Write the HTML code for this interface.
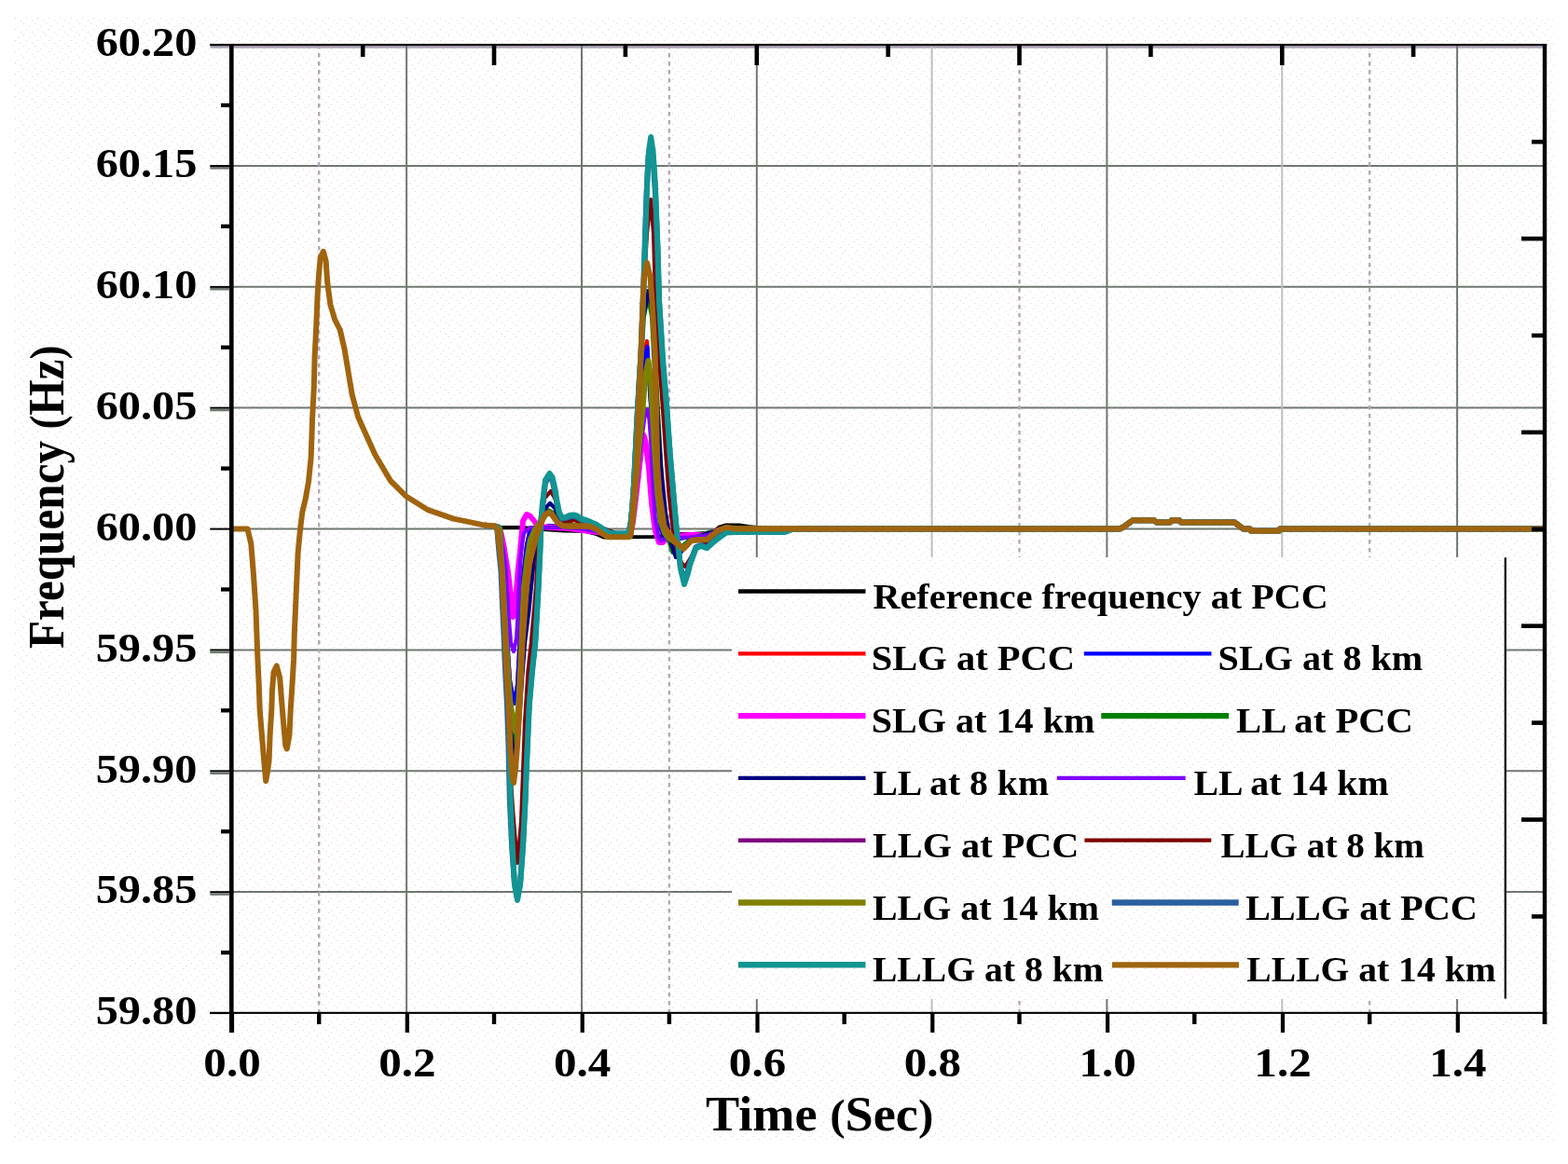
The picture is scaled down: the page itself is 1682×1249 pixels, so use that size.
<!DOCTYPE html><html><head><meta charset="utf-8"><title>Frequency vs Time</title>
<style>html,body{margin:0;padding:0;background:#fff;}svg{display:block;}</style></head><body>
<svg width="1682" height="1249" viewBox="0 0 1682 1249">
<rect x="0" y="0" width="1682" height="1249" fill="#ffffff"/>
<defs><pattern id="dots" x="0" y="0" width="12" height="12" patternUnits="userSpaceOnUse"><rect x="1" y="1" width="1" height="1" fill="#f3c6d3"/><rect x="7" y="4" width="1" height="1" fill="#d6dede"/><rect x="4" y="7" width="1" height="1" fill="#f3c6d3"/><rect x="10" y="10" width="1" height="1" fill="#d6dede"/></pattern></defs>
<rect x="16" y="19" width="1653" height="1206" fill="url(#dots)"/>
<line x1="248.3" y1="177.9" x2="1657.0" y2="177.9" stroke="#6f786f" stroke-width="2"/>
<line x1="248.3" y1="307.8" x2="1657.0" y2="307.8" stroke="#6f786f" stroke-width="2"/>
<line x1="248.3" y1="437.6" x2="1657.0" y2="437.6" stroke="#6f786f" stroke-width="2"/>
<line x1="248.3" y1="567.5" x2="1657.0" y2="567.5" stroke="#6f786f" stroke-width="2"/>
<line x1="248.3" y1="697.4" x2="1657.0" y2="697.4" stroke="#6f786f" stroke-width="2"/>
<line x1="248.3" y1="827.2" x2="1657.0" y2="827.2" stroke="#6f786f" stroke-width="2"/>
<line x1="248.3" y1="957.1" x2="1657.0" y2="957.1" stroke="#6f786f" stroke-width="2"/>
<rect x="225.6" y="49.2" width="1431.4" height="2.6" fill="#b0a6b8"/>
<line x1="436.1" y1="48.0" x2="436.1" y2="1087.0" stroke="#6f786f" stroke-width="2"/>
<line x1="624.0" y1="48.0" x2="624.0" y2="1087.0" stroke="#6f786f" stroke-width="2"/>
<line x1="811.8" y1="48.0" x2="811.8" y2="1087.0" stroke="#6f786f" stroke-width="2"/>
<line x1="999.6" y1="48.0" x2="999.6" y2="1087.0" stroke="#bebebe" stroke-width="2"/>
<line x1="1187.4" y1="48.0" x2="1187.4" y2="1087.0" stroke="#6f786f" stroke-width="2"/>
<line x1="1375.3" y1="48.0" x2="1375.3" y2="1087.0" stroke="#bebebe" stroke-width="2"/>
<line x1="1563.1" y1="48.0" x2="1563.1" y2="1087.0" stroke="#6f786f" stroke-width="2"/>
<line x1="342.2" y1="48.0" x2="342.2" y2="1087.0" stroke="#b4a7ba" stroke-width="2.4" stroke-dasharray="4.5 4.5"/>
<line x1="717.9" y1="48.0" x2="717.9" y2="1087.0" stroke="#b4a7ba" stroke-width="2.4" stroke-dasharray="4.5 4.5"/>
<line x1="1093.5" y1="48.0" x2="1093.5" y2="1087.0" stroke="#b4a7ba" stroke-width="2.4" stroke-dasharray="4.5 4.5"/>
<line x1="1469.2" y1="48.0" x2="1469.2" y2="1087.0" stroke="#b4a7ba" stroke-width="2.4" stroke-dasharray="4.5 4.5"/>
<polyline points="520.0,563.6 534.0,565.5 536.0,566.0 560.0,566.0 575.0,567.5 590.0,568.5 605.0,569.5 628.0,570.0 640.0,573.0 648.0,576.5 700.0,576.0 712.0,575.0 729.0,573.0 742.0,573.0 758.0,572.0 764.0,572.0 772.0,565.5 779.0,563.5 793.0,563.5 802.0,565.0 812.0,566.0 830.0,567.5 1201.0,567.5 1205.0,565.5 1210.0,562.0 1215.0,558.3 1238.0,558.3 1241.0,560.5 1255.0,560.5 1257.0,558.3 1265.0,558.3 1267.0,560.5 1324.5,560.6 1329.0,564.0 1333.5,567.5 1341.0,567.5 1342.0,569.7 1372.0,569.7 1373.0,567.5 1657.0,567.5" fill="none" stroke="#000000" stroke-width="4.2" stroke-linejoin="round" stroke-linecap="butt"/>
<polyline points="520.0,563.6 534.0,565.5 536.0,567.0 539.0,605.0 543.0,670.0 547.0,730.0 551.5,755.0 555.0,735.0 558.0,680.0 561.0,620.0 565.0,585.0 569.0,567.0 573.0,566.0 580.0,566.0 590.0,564.0 600.0,565.0 620.0,566.0 645.0,570.0 660.0,573.0 675.0,573.0 679.0,550.0 682.0,505.0 685.0,440.0 689.0,390.0 694.0,366.0 697.3,420.0 700.0,460.0 701.7,483.0 703.5,515.0 706.0,545.0 709.0,568.0 713.0,578.0 718.0,580.0 722.0,579.0 735.0,577.0 755.0,575.0 772.0,569.0 785.0,567.5 1201.0,567.5 1205.0,565.5 1210.0,562.0 1215.0,558.3 1238.0,558.3 1241.0,560.5 1255.0,560.5 1257.0,558.3 1265.0,558.3 1267.0,560.5 1324.5,560.6 1329.0,564.0 1333.5,567.5 1341.0,567.5 1342.0,569.7 1372.0,569.7 1373.0,567.5 1657.0,567.5" fill="none" stroke="#ff0000" stroke-width="4.2" stroke-linejoin="round" stroke-linecap="butt"/>
<polyline points="520.0,563.6 534.0,565.5 536.0,567.0 539.0,605.0 543.0,670.0 547.0,730.0 551.5,755.0 555.0,735.0 558.0,680.0 561.0,620.0 565.0,585.0 569.0,567.0 573.0,566.0 580.0,566.0 590.0,564.0 600.0,565.0 620.0,566.0 645.0,570.0 660.0,573.0 675.0,573.0 679.0,550.0 682.0,505.0 685.0,440.0 689.0,395.0 694.5,372.0 697.3,426.0 700.0,460.0 701.7,483.0 703.5,515.0 706.0,545.0 709.0,568.0 713.0,578.0 718.0,580.0 722.0,579.0 735.0,577.0 755.0,575.0 772.0,569.0 785.0,567.5 1201.0,567.5 1205.0,565.5 1210.0,562.0 1215.0,558.3 1238.0,558.3 1241.0,560.5 1255.0,560.5 1257.0,558.3 1265.0,558.3 1267.0,560.5 1324.5,560.6 1329.0,564.0 1333.5,567.5 1341.0,567.5 1342.0,569.7 1372.0,569.7 1373.0,567.5 1657.0,567.5" fill="none" stroke="#0000ff" stroke-width="4.2" stroke-linejoin="round" stroke-linecap="butt"/>
<polyline points="520.0,563.6 534.0,565.5 535.0,565.5 537.5,572.0 540.4,586.0 544.9,613.6 547.7,636.0 549.3,655.0 550.3,662.0 551.6,655.0 553.3,643.0 555.5,613.6 558.0,591.0 561.0,559.0 565.0,552.0 569.0,554.0 573.8,560.0 577.0,565.0 590.0,566.0 610.0,567.0 640.0,571.0 660.0,574.0 676.0,574.0 679.0,560.0 682.0,535.0 686.0,500.0 688.5,478.0 690.5,467.0 692.5,474.0 696.0,502.0 699.0,540.0 703.0,570.0 707.0,582.0 711.0,582.0 716.0,577.0 725.0,575.0 740.0,574.0 755.0,574.0 770.0,569.0 785.0,567.5 1201.0,567.5 1205.0,565.5 1210.0,562.0 1215.0,558.3 1238.0,558.3 1241.0,560.5 1255.0,560.5 1257.0,558.3 1265.0,558.3 1267.0,560.5 1324.5,560.6 1329.0,564.0 1333.5,567.5 1341.0,567.5 1342.0,569.7 1372.0,569.7 1373.0,567.5 1657.0,567.5" fill="none" stroke="#ff00ff" stroke-width="6.0" stroke-linejoin="round" stroke-linecap="butt"/>
<polyline points="520.0,563.6 534.0,565.5 536.0,567.0 539.0,620.0 543.0,700.0 547.0,770.0 552.0,800.0 556.0,770.0 560.0,700.0 564.0,640.0 568.0,600.0 573.0,580.0 580.0,560.0 588.0,548.0 595.0,552.0 602.0,561.0 615.0,564.0 640.0,569.0 660.0,573.0 675.0,573.0 679.0,540.0 684.0,440.0 690.0,340.0 695.0,313.0 700.0,340.0 705.0,440.0 710.0,530.0 715.0,570.0 722.0,592.0 728.0,590.0 740.0,580.0 760.0,572.0 785.0,567.5 1201.0,567.5 1205.0,565.5 1210.0,562.0 1215.0,558.3 1238.0,558.3 1241.0,560.5 1255.0,560.5 1257.0,558.3 1265.0,558.3 1267.0,560.5 1324.5,560.6 1329.0,564.0 1333.5,567.5 1341.0,567.5 1342.0,569.7 1372.0,569.7 1373.0,567.5 1657.0,567.5" fill="none" stroke="#008000" stroke-width="6.0" stroke-linejoin="round" stroke-linecap="butt"/>
<polyline points="520.0,563.6 534.0,565.5 536.0,567.0 539.0,620.0 543.0,700.0 547.0,775.0 552.0,818.0 556.0,790.0 560.0,730.0 563.0,690.0 567.4,655.0 573.8,591.0 580.0,560.0 586.0,544.0 590.0,540.0 595.0,545.0 600.0,556.0 610.0,563.0 640.0,569.0 660.0,573.0 675.0,573.0 679.0,540.0 684.0,440.0 690.0,340.0 696.0,312.0 700.0,335.0 704.0,420.0 709.0,500.0 714.0,550.0 719.0,580.0 725.0,598.0 731.0,592.0 740.0,580.0 760.0,572.0 785.0,567.5 1201.0,567.5 1205.0,565.5 1210.0,562.0 1215.0,558.3 1238.0,558.3 1241.0,560.5 1255.0,560.5 1257.0,558.3 1265.0,558.3 1267.0,560.5 1324.5,560.6 1329.0,564.0 1333.5,567.5 1341.0,567.5 1342.0,569.7 1372.0,569.7 1373.0,567.5 1657.0,567.5" fill="none" stroke="#000080" stroke-width="4.2" stroke-linejoin="round" stroke-linecap="butt"/>
<polyline points="520.0,563.6 534.0,565.5 535.0,566.0 538.0,580.0 542.0,605.0 543.5,625.0 545.5,660.0 548.0,690.0 551.0,699.0 554.0,685.0 556.0,650.0 557.0,625.0 558.5,600.0 560.0,585.0 562.0,572.0 568.7,566.0 575.0,567.0 585.0,566.0 600.0,566.0 620.0,567.0 645.0,571.0 660.0,574.0 676.0,574.0 679.0,560.0 682.0,530.0 685.0,500.0 688.5,470.0 691.5,447.0 694.0,439.5 696.5,450.0 698.0,470.0 699.4,501.6 702.8,556.0 706.5,576.5 709.0,580.0 715.0,578.0 730.0,577.0 745.0,576.0 760.0,574.0 772.0,569.0 785.0,567.5 1201.0,567.5 1205.0,565.5 1210.0,562.0 1215.0,558.3 1238.0,558.3 1241.0,560.5 1255.0,560.5 1257.0,558.3 1265.0,558.3 1267.0,560.5 1324.5,560.6 1329.0,564.0 1333.5,567.5 1341.0,567.5 1342.0,569.7 1372.0,569.7 1373.0,567.5 1657.0,567.5" fill="none" stroke="#8000ff" stroke-width="4.2" stroke-linejoin="round" stroke-linecap="butt"/>
<polyline points="520.0,563.6 534.0,565.5 536.0,567.0 539.0,620.0 543.0,690.0 547.0,748.0 551.0,776.0 553.0,780.0 556.0,757.0 559.0,700.0 562.0,630.0 565.5,600.0 568.7,580.0 573.0,570.0 579.0,561.0 584.0,553.0 588.2,550.0 592.0,552.0 597.9,560.4 604.0,564.4 632.0,564.4 639.2,567.5 646.3,572.7 652.4,575.5 676.0,575.5 680.0,552.0 685.0,475.0 690.0,415.0 696.0,390.0 701.0,415.0 705.0,482.0 709.0,540.0 713.0,572.0 717.0,577.0 725.0,582.5 733.3,588.5 741.6,580.0 758.3,579.0 770.8,569.0 779.0,566.0 790.0,567.5 1201.0,567.5 1205.0,565.5 1210.0,562.0 1215.0,558.3 1238.0,558.3 1241.0,560.5 1255.0,560.5 1257.0,558.3 1265.0,558.3 1267.0,560.5 1324.5,560.6 1329.0,564.0 1333.5,567.5 1341.0,567.5 1342.0,569.7 1372.0,569.7 1373.0,567.5 1657.0,567.5" fill="none" stroke="#800080" stroke-width="4.2" stroke-linejoin="round" stroke-linecap="butt"/>
<polyline points="520.0,563.6 534.0,565.5 536.0,567.0 539.0,640.0 543.0,740.0 547.0,820.0 550.0,868.0 553.0,905.0 555.0,926.0 557.0,905.0 559.0,883.0 563.0,775.0 566.5,720.0 569.8,690.0 575.0,630.0 577.7,575.0 580.0,555.0 584.0,535.0 590.8,527.0 596.0,536.0 600.0,552.0 606.0,560.0 612.0,559.0 616.0,558.0 621.0,560.0 632.0,563.0 650.0,568.0 660.0,572.0 675.0,572.0 679.0,530.0 684.0,450.0 689.0,340.0 694.0,250.0 698.0,214.0 701.0,250.0 703.2,324.0 707.2,388.0 710.8,436.0 714.5,490.0 717.5,530.0 721.7,567.0 726.0,590.0 731.0,604.0 735.0,608.0 740.0,600.0 748.0,588.0 758.0,582.0 766.0,578.0 775.0,570.0 790.0,567.5 1201.0,567.5 1205.0,565.5 1210.0,562.0 1215.0,558.3 1238.0,558.3 1241.0,560.5 1255.0,560.5 1257.0,558.3 1265.0,558.3 1267.0,560.5 1324.5,560.6 1329.0,564.0 1333.5,567.5 1341.0,567.5 1342.0,569.7 1372.0,569.7 1373.0,567.5 1657.0,567.5" fill="none" stroke="#800000" stroke-width="4.2" stroke-linejoin="round" stroke-linecap="butt"/>
<polyline points="520.0,563.6 534.0,565.5 536.0,567.0 539.0,620.0 543.0,690.0 547.0,750.0 551.0,780.0 553.0,785.0 556.0,760.0 559.0,700.0 562.0,630.0 565.5,600.0 568.7,580.0 573.0,570.0 579.0,561.0 584.0,553.0 588.2,550.0 592.0,552.0 597.9,560.4 604.0,564.4 632.0,564.4 639.2,567.5 646.3,572.7 652.4,575.5 676.0,575.5 679.0,555.0 682.0,520.0 685.0,485.0 689.6,437.6 692.2,404.0 695.4,387.0 697.8,404.0 699.6,437.6 702.0,480.0 705.5,530.0 709.0,560.0 713.0,572.0 717.0,577.0 725.0,582.5 733.3,588.5 741.6,580.0 758.3,579.0 770.8,569.0 779.0,566.0 790.0,567.5 1201.0,567.5 1205.0,565.5 1210.0,562.0 1215.0,558.3 1238.0,558.3 1241.0,560.5 1255.0,560.5 1257.0,558.3 1265.0,558.3 1267.0,560.5 1324.5,560.6 1329.0,564.0 1333.5,567.5 1341.0,567.5 1342.0,569.7 1372.0,569.7 1373.0,567.5 1657.0,567.5" fill="none" stroke="#808000" stroke-width="6.0" stroke-linejoin="round" stroke-linecap="butt"/>
<polyline points="520.0,563.6 534.0,565.5 531.0,564.5 533.3,568.0 534.3,580.0 535.3,591.0 537.5,613.6 538.9,647.0 540.5,681.0 541.8,714.5 544.0,757.0 545.5,800.0 546.8,858.0 549.2,910.0 552.0,948.0 555.0,963.0 558.0,948.0 561.0,905.0 563.4,858.0 564.6,825.0 567.5,757.0 570.8,720.0 574.0,690.0 577.4,630.0 579.2,590.0 580.3,560.0 582.0,542.0 585.0,518.0 589.5,511.0 592.5,515.0 595.3,528.0 597.5,541.0 599.8,551.5 603.0,556.5 607.0,556.0 611.0,554.5 615.0,554.0 619.0,555.0 623.0,557.5 630.0,559.5 640.0,563.5 651.5,570.5 656.0,572.5 674.0,572.5 677.0,560.0 680.0,520.0 684.0,440.0 687.5,380.0 690.3,306.0 693.5,210.0 695.5,168.0 698.2,152.0 700.5,168.0 702.8,205.0 705.3,265.0 707.0,324.0 711.0,388.0 715.0,436.0 718.5,486.0 723.8,548.0 726.3,575.0 729.8,608.0 734.0,624.0 738.0,612.0 740.0,604.0 746.6,587.0 752.0,585.0 758.3,587.0 764.0,582.0 770.8,576.5 779.0,571.0 790.0,570.5 842.0,570.5 850.0,568.0 870.0,567.5 1201.0,567.5 1205.0,565.5 1210.0,562.0 1215.0,558.3 1238.0,558.3 1241.0,560.5 1255.0,560.5 1257.0,558.3 1265.0,558.3 1267.0,560.5 1324.5,560.6 1329.0,564.0 1333.5,567.5 1341.0,567.5 1342.0,569.7 1372.0,569.7 1373.0,567.5 1657.0,567.5" fill="none" stroke="#2a5fa0" stroke-width="6.0" stroke-linejoin="round" stroke-linecap="butt"/>
<polyline points="520.0,563.6 534.0,565.5 531.0,564.5 533.8,568.0 535.3,580.0 536.6,591.0 539.0,613.6 540.4,647.0 542.1,681.0 543.3,714.5 545.6,757.0 546.8,800.0 547.6,858.0 549.8,910.0 552.0,950.0 555.0,966.0 558.0,950.0 561.0,910.0 563.6,858.0 564.8,825.0 567.8,757.0 571.0,720.0 574.3,690.0 577.7,630.0 579.5,590.0 580.5,560.0 582.0,540.0 585.0,515.0 589.5,508.0 592.5,512.0 595.5,525.0 597.7,539.0 600.0,550.0 603.0,555.5 607.0,555.0 611.0,553.0 615.0,552.5 619.0,553.5 623.0,556.5 630.0,558.5 640.0,563.0 651.5,570.5 656.0,572.5 674.0,572.5 677.0,560.0 680.0,520.0 684.0,440.0 687.5,380.0 690.6,306.0 694.0,200.0 696.0,162.0 698.2,147.0 700.5,162.0 703.0,200.0 705.5,265.0 707.2,324.0 711.2,388.0 715.2,436.0 718.7,486.0 724.0,548.0 726.5,575.0 730.0,610.0 734.0,627.0 738.0,615.0 740.0,606.6 746.6,588.3 752.0,586.0 758.3,588.3 764.0,583.0 770.8,577.5 779.0,571.6 790.0,571.0 842.0,571.0 850.0,568.0 870.0,567.5 1201.0,567.5 1205.0,565.5 1210.0,562.0 1215.0,558.3 1238.0,558.3 1241.0,560.5 1255.0,560.5 1257.0,558.3 1265.0,558.3 1267.0,560.5 1324.5,560.6 1329.0,564.0 1333.5,567.5 1341.0,567.5 1342.0,569.7 1372.0,569.7 1373.0,567.5 1657.0,567.5" fill="none" stroke="#129592" stroke-width="6.0" stroke-linejoin="round" stroke-linecap="butt"/>
<polyline points="248.3,567.5 265.5,567.5 269.3,583.5 272.0,617.0 274.5,655.0 276.4,707.0 277.7,734.0 278.7,761.6 280.9,788.8 283.2,816.0 285.2,838.0 287.0,828.0 288.6,816.0 289.6,788.8 291.3,761.6 292.0,741.0 293.6,721.0 296.8,714.5 300.2,727.6 301.8,748.0 304.0,775.0 306.3,800.0 307.8,803.5 310.4,789.0 311.7,761.6 313.5,734.4 315.1,707.2 315.8,680.0 318.0,629.6 319.6,593.8 322.0,568.2 324.4,549.0 327.6,536.0 331.0,517.0 333.6,491.3 335.2,447.0 336.8,415.0 337.6,383.0 339.2,351.0 340.5,319.0 342.0,295.0 343.7,276.0 346.9,270.0 349.6,280.0 351.2,303.0 354.4,327.0 359.2,343.0 364.8,354.0 369.6,375.0 373.6,399.0 377.6,423.0 384.0,447.0 388.4,457.0 402.4,488.0 419.0,516.0 436.0,532.8 458.4,546.8 486.4,556.6 520.0,563.6 531.0,564.5 533.5,568.0 535.0,580.0 536.3,591.0 538.7,613.6 540.1,647.0 541.8,681.0 543.0,714.5 545.4,757.0 547.5,805.0 549.5,832.0 551.0,840.0 553.0,825.0 555.0,800.0 557.5,757.0 560.5,690.0 564.9,630.0 568.0,605.0 571.3,591.0 575.0,577.0 579.0,565.6 584.0,553.0 588.2,550.0 592.0,552.0 597.9,560.4 604.0,564.4 632.0,564.4 639.2,567.5 646.3,572.7 652.4,576.3 674.4,576.3 677.0,572.0 680.0,535.0 682.7,501.6 685.0,437.6 687.6,380.0 689.6,324.0 691.0,297.0 694.0,282.0 697.5,297.0 699.6,324.0 702.6,380.0 704.0,437.6 705.2,501.6 707.5,530.0 709.7,545.0 712.6,565.0 715.4,569.0 725.0,582.0 733.3,589.0 741.6,580.0 750.0,579.0 758.3,579.0 770.8,569.0 779.0,566.0 790.0,567.5 1201.0,567.5 1205.0,565.5 1210.0,562.0 1215.0,558.3 1238.0,558.3 1241.0,560.5 1255.0,560.5 1257.0,558.3 1265.0,558.3 1267.0,560.5 1324.5,560.6 1329.0,564.0 1333.5,567.5 1341.0,567.5 1342.0,569.7 1372.0,569.7 1373.0,567.5 1657.0,567.5" fill="none" stroke="#a0640f" stroke-width="6.0" stroke-linejoin="round" stroke-linecap="butt"/>
<rect x="785" y="598" width="830" height="474" fill="#ffffff"/>
<rect x="785" y="598" width="830" height="474" fill="url(#dots)"/>
<rect x="1613.7" y="598.3" width="2.2" height="473.3" fill="#000"/>
<rect x="246.0" y="47.0" width="4.6" height="1061" fill="#000"/>
<rect x="1654.8" y="47.0" width="4.4" height="1052" fill="#000"/>
<rect x="225.3" y="47.0" width="1433.9" height="2.2" fill="#000"/>
<rect x="225.3" y="1085.8" width="1433.9" height="2.1" fill="#000"/>
<rect x="225.3" y="47.1" width="22" height="2.0" fill="#000"/>
<rect x="225.3" y="177.0" width="22" height="2.0" fill="#000"/>
<rect x="225.3" y="179.0" width="21" height="2.6" fill="#6f786f"/>
<rect x="225.3" y="306.9" width="22" height="2.0" fill="#000"/>
<rect x="225.3" y="308.9" width="21" height="2.6" fill="#6f786f"/>
<rect x="225.3" y="436.7" width="22" height="2.0" fill="#000"/>
<rect x="225.3" y="438.7" width="21" height="2.6" fill="#6f786f"/>
<rect x="225.3" y="566.6" width="22" height="2.0" fill="#000"/>
<rect x="225.3" y="696.5" width="22" height="2.0" fill="#000"/>
<rect x="225.3" y="698.5" width="21" height="2.6" fill="#6f786f"/>
<rect x="225.3" y="826.4" width="22" height="2.0" fill="#000"/>
<rect x="225.3" y="828.4" width="21" height="2.6" fill="#6f786f"/>
<rect x="225.3" y="956.2" width="22" height="2.0" fill="#000"/>
<rect x="225.3" y="958.2" width="21" height="2.6" fill="#6f786f"/>
<rect x="225.3" y="1086.1" width="22" height="2.0" fill="#000"/>
<rect x="237.0" y="110.8" width="10" height="4.3" fill="#000"/>
<rect x="237.0" y="240.7" width="10" height="4.3" fill="#000"/>
<rect x="237.0" y="370.6" width="10" height="4.3" fill="#000"/>
<rect x="237.0" y="500.5" width="10" height="4.3" fill="#000"/>
<rect x="237.0" y="630.3" width="10" height="4.3" fill="#000"/>
<rect x="237.0" y="760.2" width="10" height="4.3" fill="#000"/>
<rect x="237.0" y="890.1" width="10" height="4.3" fill="#000"/>
<rect x="237.0" y="1020.0" width="10" height="4.3" fill="#000"/>
<rect x="246.9" y="1086" width="4.2" height="22" fill="#000"/>
<rect x="340.0" y="1086" width="4.4" height="13" fill="#000"/>
<rect x="434.7" y="1086" width="4.2" height="22" fill="#000"/>
<rect x="527.8" y="1086" width="4.4" height="13" fill="#000"/>
<rect x="622.6" y="1086" width="4.2" height="22" fill="#000"/>
<rect x="715.7" y="1086" width="4.4" height="13" fill="#000"/>
<rect x="810.4" y="1086" width="4.2" height="22" fill="#000"/>
<rect x="903.5" y="1086" width="4.4" height="13" fill="#000"/>
<rect x="998.2" y="1086" width="4.2" height="22" fill="#000"/>
<rect x="1091.3" y="1086" width="4.4" height="13" fill="#000"/>
<rect x="1186.0" y="1086" width="4.2" height="22" fill="#000"/>
<rect x="1279.1" y="1086" width="4.4" height="13" fill="#000"/>
<rect x="1373.9" y="1086" width="4.2" height="22" fill="#000"/>
<rect x="1467.0" y="1086" width="4.4" height="13" fill="#000"/>
<rect x="1561.7" y="1086" width="4.2" height="22" fill="#000"/>
<rect x="1654.8" y="1086" width="4.4" height="13" fill="#000"/>
<rect x="386.9" y="47" width="4.6" height="14" fill="#000"/>
<rect x="527.7" y="47" width="4.6" height="23" fill="#000"/>
<rect x="668.6" y="47" width="4.6" height="14" fill="#000"/>
<rect x="809.5" y="47" width="4.6" height="23" fill="#000"/>
<rect x="950.4" y="47" width="4.6" height="14" fill="#000"/>
<rect x="1091.2" y="47" width="4.6" height="23" fill="#000"/>
<rect x="1232.1" y="47" width="4.6" height="14" fill="#000"/>
<rect x="1373.0" y="47" width="4.6" height="23" fill="#000"/>
<rect x="1513.8" y="47" width="4.6" height="14" fill="#000"/>
<rect x="1643.0" y="149.9" width="12" height="4.6" fill="#000"/>
<rect x="1632.0" y="253.8" width="23" height="4.6" fill="#000"/>
<rect x="1643.0" y="357.7" width="12" height="4.6" fill="#000"/>
<rect x="1632.0" y="461.6" width="23" height="4.6" fill="#000"/>
<rect x="1643.0" y="565.5" width="12" height="4.6" fill="#000"/>
<rect x="1632.0" y="669.4" width="23" height="4.6" fill="#000"/>
<rect x="1643.0" y="773.3" width="12" height="4.6" fill="#000"/>
<rect x="1632.0" y="877.2" width="23" height="4.6" fill="#000"/>
<rect x="1643.0" y="981.1" width="12" height="4.6" fill="#000"/>
<line x1="792" y1="634.5" x2="928.5" y2="634.5" stroke="#000000" stroke-width="4.5"/>
<text transform="translate(936.40,652.5) scale(1.0838,1)" font-size="37.1" font-family="'Liberation Serif','Times New Roman',serif" font-weight="bold" fill="#000">Reference frequency at PCC</text>
<line x1="792" y1="701.3" x2="928.5" y2="701.3" stroke="#ff0000" stroke-width="4.3"/>
<text transform="translate(934.77,719.3) scale(1.0915,1)" font-size="37.1" font-family="'Liberation Serif','Times New Roman',serif" font-weight="bold" fill="#000">SLG at PCC</text>
<line x1="1162.8" y1="701.3" x2="1299.5" y2="701.3" stroke="#0000ff" stroke-width="4.3"/>
<text transform="translate(1306.59,719.3) scale(1.0822,1)" font-size="37.1" font-family="'Liberation Serif','Times New Roman',serif" font-weight="bold" fill="#000">SLG at 8 km</text>
<line x1="792" y1="768.1" x2="928.5" y2="768.1" stroke="#ff00ff" stroke-width="6.4"/>
<text transform="translate(934.79,786.1) scale(1.0814,1)" font-size="37.1" font-family="'Liberation Serif','Times New Roman',serif" font-weight="bold" fill="#000">SLG at 14 km</text>
<line x1="1181.3" y1="768.1" x2="1318.1" y2="768.1" stroke="#008000" stroke-width="6.4"/>
<text transform="translate(1326.09,786.1) scale(1.0970,1)" font-size="37.1" font-family="'Liberation Serif','Times New Roman',serif" font-weight="bold" fill="#000">LL at PCC</text>
<line x1="792" y1="834.9" x2="928.5" y2="834.9" stroke="#000080" stroke-width="4.3"/>
<text transform="translate(936.40,852.9) scale(1.0702,1)" font-size="37.1" font-family="'Liberation Serif','Times New Roman',serif" font-weight="bold" fill="#000">LL at 8 km</text>
<line x1="1133.8" y1="834.9" x2="1271.7" y2="834.9" stroke="#8000ff" stroke-width="4.3"/>
<text transform="translate(1280.40,852.9) scale(1.0740,1)" font-size="37.1" font-family="'Liberation Serif','Times New Roman',serif" font-weight="bold" fill="#000">LL at 14 km</text>
<line x1="792" y1="901.7" x2="928.5" y2="901.7" stroke="#800080" stroke-width="4.5"/>
<text transform="translate(935.90,919.7) scale(1.0861,1)" font-size="37.1" font-family="'Liberation Serif','Times New Roman',serif" font-weight="bold" fill="#000">LLG at PCC</text>
<line x1="1163.4" y1="901.7" x2="1299.3" y2="901.7" stroke="#800000" stroke-width="4.3"/>
<text transform="translate(1309.41,919.7) scale(1.0549,1)" font-size="37.1" font-family="'Liberation Serif','Times New Roman',serif" font-weight="bold" fill="#000">LLG at 8 km</text>
<line x1="792" y1="968.5" x2="928.5" y2="968.5" stroke="#808000" stroke-width="6.5"/>
<text transform="translate(935.90,986.5) scale(1.0768,1)" font-size="37.1" font-family="'Liberation Serif','Times New Roman',serif" font-weight="bold" fill="#000">LLG at 14 km</text>
<line x1="1192.8" y1="968.5" x2="1328.7" y2="968.5" stroke="#2a5fa0" stroke-width="6.7"/>
<text transform="translate(1335.89,986.5) scale(1.0893,1)" font-size="37.1" font-family="'Liberation Serif','Times New Roman',serif" font-weight="bold" fill="#000">LLLG at PCC</text>
<line x1="792" y1="1035.3" x2="928.5" y2="1035.3" stroke="#129592" stroke-width="6.4"/>
<text transform="translate(935.91,1053.3) scale(1.0691,1)" font-size="37.1" font-family="'Liberation Serif','Times New Roman',serif" font-weight="bold" fill="#000">LLLG at 8 km</text>
<line x1="1193" y1="1035.3" x2="1329" y2="1035.3" stroke="#a0640f" stroke-width="6.2"/>
<text transform="translate(1337.21,1053.3) scale(1.0681,1)" font-size="37.1" font-family="'Liberation Serif','Times New Roman',serif" font-weight="bold" fill="#000">LLLG at 14 km</text>
<text transform="translate(211.5,60.2) scale(1.095,1)" text-anchor="end" font-size="44.2" font-family="'Liberation Serif','Times New Roman',serif" font-weight="bold" fill="#000">60.20</text>
<text transform="translate(211.5,190.1) scale(1.095,1)" text-anchor="end" font-size="44.2" font-family="'Liberation Serif','Times New Roman',serif" font-weight="bold" fill="#000">60.15</text>
<text transform="translate(211.5,319.9) scale(1.095,1)" text-anchor="end" font-size="44.2" font-family="'Liberation Serif','Times New Roman',serif" font-weight="bold" fill="#000">60.10</text>
<text transform="translate(211.5,449.8) scale(1.095,1)" text-anchor="end" font-size="44.2" font-family="'Liberation Serif','Times New Roman',serif" font-weight="bold" fill="#000">60.05</text>
<text transform="translate(211.5,579.7) scale(1.095,1)" text-anchor="end" font-size="44.2" font-family="'Liberation Serif','Times New Roman',serif" font-weight="bold" fill="#000">60.00</text>
<text transform="translate(211.5,709.6) scale(1.095,1)" text-anchor="end" font-size="44.2" font-family="'Liberation Serif','Times New Roman',serif" font-weight="bold" fill="#000">59.95</text>
<text transform="translate(211.5,839.5) scale(1.095,1)" text-anchor="end" font-size="44.2" font-family="'Liberation Serif','Times New Roman',serif" font-weight="bold" fill="#000">59.90</text>
<text transform="translate(211.5,969.3) scale(1.095,1)" text-anchor="end" font-size="44.2" font-family="'Liberation Serif','Times New Roman',serif" font-weight="bold" fill="#000">59.85</text>
<text transform="translate(211.5,1099.2) scale(1.095,1)" text-anchor="end" font-size="44.2" font-family="'Liberation Serif','Times New Roman',serif" font-weight="bold" fill="#000">59.80</text>
<text transform="translate(249.0,1155.2) scale(1.11,1)" text-anchor="middle" font-size="44.2" font-family="'Liberation Serif','Times New Roman',serif" font-weight="bold" fill="#000">0.0</text>
<text transform="translate(436.8,1155.2) scale(1.11,1)" text-anchor="middle" font-size="44.2" font-family="'Liberation Serif','Times New Roman',serif" font-weight="bold" fill="#000">0.2</text>
<text transform="translate(624.7,1155.2) scale(1.11,1)" text-anchor="middle" font-size="44.2" font-family="'Liberation Serif','Times New Roman',serif" font-weight="bold" fill="#000">0.4</text>
<text transform="translate(812.5,1155.2) scale(1.11,1)" text-anchor="middle" font-size="44.2" font-family="'Liberation Serif','Times New Roman',serif" font-weight="bold" fill="#000">0.6</text>
<text transform="translate(1000.3,1155.2) scale(1.11,1)" text-anchor="middle" font-size="44.2" font-family="'Liberation Serif','Times New Roman',serif" font-weight="bold" fill="#000">0.8</text>
<text transform="translate(1188.1,1155.2) scale(1.11,1)" text-anchor="middle" font-size="44.2" font-family="'Liberation Serif','Times New Roman',serif" font-weight="bold" fill="#000">1.0</text>
<text transform="translate(1376.0,1155.2) scale(1.11,1)" text-anchor="middle" font-size="44.2" font-family="'Liberation Serif','Times New Roman',serif" font-weight="bold" fill="#000">1.2</text>
<text transform="translate(1563.8,1155.2) scale(1.11,1)" text-anchor="middle" font-size="44.2" font-family="'Liberation Serif','Times New Roman',serif" font-weight="bold" fill="#000">1.4</text>
<text transform="translate(756.9,1212.9) scale(1.0463,1)" font-size="51.9" font-family="'Liberation Serif','Times New Roman',serif" font-weight="bold" fill="#000">Time <tspan font-size="47.1" dy="-1.3">(</tspan><tspan dy="1.3">Sec</tspan><tspan font-size="47.1" dy="-1.3">)</tspan></text>
<text transform="translate(67.9,696.1) rotate(-90) scale(0.9706,1.084)" font-size="50.7" font-family="'Liberation Serif','Times New Roman',serif" font-weight="bold" fill="#000">Frequency <tspan font-size="46" dy="-1.2">(</tspan><tspan dy="1.2">Hz</tspan><tspan font-size="46" dy="-1.2">)</tspan></text>
</svg></body></html>
